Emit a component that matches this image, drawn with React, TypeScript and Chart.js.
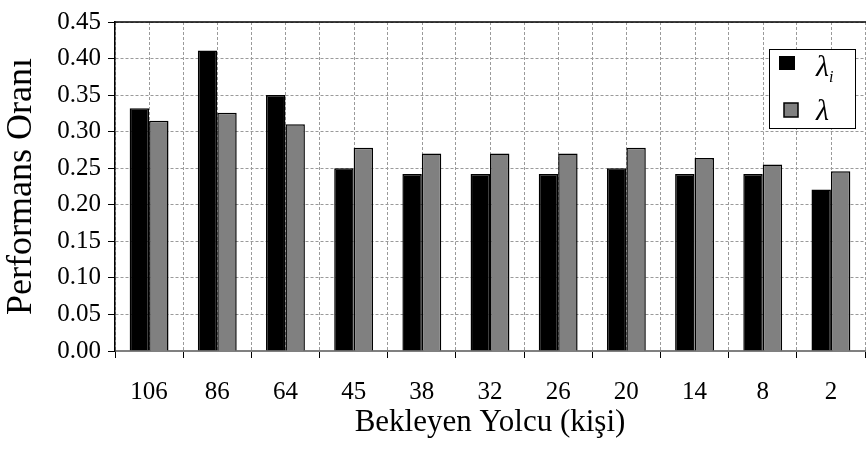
import React, { useEffect, useRef } from "react";
import { Chart, registerables } from "chart.js";

Chart.register(...registerables);

const categories = ["106", "86", "64", "45", "38", "32", "26", "20", "14", "8", "2"];
const lambdaI = [0.332, 0.411, 0.35, 0.25, 0.242, 0.242, 0.242, 0.25, 0.242, 0.242, 0.221];
const lambdaAll = [0.315, 0.326, 0.31, 0.278, 0.27, 0.27, 0.27, 0.278, 0.264, 0.255, 0.246];
const seriesNames = ["λi", "λ"];
const yTitle = "Performans Oranı";
const xTitle = "Bekleyen Yolcu (kişi)";

const SERIF = "'Liberation Serif', 'Times New Roman', serif";
const GRID = "#9a9a9a";

const extrasPlugin = {
  id: "extras",
  beforeDatasetsDraw(chart: any) {
    const { ctx, chartArea, scales } = chart;
    const x = scales.x;
    ctx.save();
    ctx.strokeStyle = GRID;
    ctx.lineWidth = 1;
    ctx.setLineDash([3, 2]);
    for (let i = 0; i < categories.length; i++) {
      const px = Math.round(x.getPixelForValue(i)) + 0.5;
      ctx.beginPath();
      ctx.moveTo(px, chartArea.top);
      ctx.lineTo(px, chartArea.bottom);
      ctx.stroke();
    }
    ctx.restore();
  },
  afterDraw(chart: any) {
    const { ctx, chartArea } = chart;
    ctx.save();
    ctx.strokeStyle = "#000";
    ctx.lineWidth = 1.5;
    ctx.beginPath();
    ctx.moveTo(chartArea.left, chartArea.top);
    ctx.lineTo(chart.width, chartArea.top);
    ctx.stroke();

    const bx = 769, by = 49, bw = 86, bh = 79;
    ctx.fillStyle = "#fff";
    ctx.fillRect(bx, by, bw, bh);
    ctx.strokeStyle = "#000";
    ctx.lineWidth = 1;
    ctx.strokeRect(bx + 0.5, by + 0.5, bw, bh);

    ctx.fillStyle = "#000";
    ctx.fillRect(779, 56, 16, 14);
    ctx.fillStyle = "#808080";
    ctx.fillRect(784, 103, 14, 14);
    ctx.lineWidth = 1.5;
    ctx.strokeRect(784, 103, 14, 14);

    ctx.fillStyle = "#000";
    ctx.textBaseline = "alphabetic";
    ctx.textAlign = "left";
    ctx.font = `italic 30px ${SERIF}`;
    ctx.fillText(seriesNames[0].charAt(0), 816, 76);
    const w = ctx.measureText(seriesNames[0].charAt(0)).width;
    ctx.font = `italic 16px ${SERIF}`;
    ctx.fillText(seriesNames[0].slice(1), 816 + w, 82);
    ctx.font = `italic 30px ${SERIF}`;
    ctx.fillText(seriesNames[1], 816, 120);
    ctx.restore();
  },
};

export default function App() {
  const ref = useRef<HTMLCanvasElement | null>(null);

  useEffect(() => {
    document.body.style.margin = "0";
    const canvas = ref.current;
    if (!canvas) return;
    const chart = new Chart(canvas, {
      type: "bar",
      data: {
        labels: categories,
        datasets: [
          {
            label: seriesNames[0],
            data: lambdaI,
            backgroundColor: "#000000",
            borderColor: "#000000",
            borderWidth: 1.5,
            categoryPercentage: 0.57,
            barPercentage: 1,
          },
          {
            label: seriesNames[1],
            data: lambdaAll,
            backgroundColor: "#808080",
            borderColor: "#000000",
            borderWidth: 1.5,
            categoryPercentage: 0.57,
            barPercentage: 1,
          },
        ],
      },
      options: {
        animation: false,
        responsive: true,
        maintainAspectRatio: false,
        layout: { padding: { top: 11, right: 1, left: 0, bottom: 0 } },
        plugins: {
          legend: { display: false },
          tooltip: { enabled: false },
        },
        scales: {
          x: {
            afterFit: (s: any) => {
              s.height = 99;
            },
            grid: {
              color: GRID,
              offset: true,
              tickLength: 7,
              tickColor: "#000",
              tickWidth: 1,
              tickBorderDash: [],
            },
            border: { display: true, color: "#808080", width: 2, dash: [3, 2] },
            ticks: {
              color: "#000",
              padding: 19,
              font: { family: SERIF, size: 25 },
              maxRotation: 0,
            },
            title: {
              display: true,
              text: xTitle,
              color: "#000",
              font: { family: SERIF, size: 31 },
              padding: { top: 0, bottom: 9 },
            },
          },
          y: {
            min: 0,
            max: 0.45,
            afterFit: (s: any) => {
              s.width = 115;
            },
            grid: {
              color: GRID,
              tickLength: 7,
              tickColor: "#000",
              tickWidth: 1,
              tickBorderDash: [],
            },
            border: { display: true, color: "#000", width: 1.5, dash: [3, 2] },
            ticks: {
              stepSize: 0.05,
              color: "#000",
              padding: 7,
              font: { family: SERIF, size: 25 },
              callback: (v: any) => Number(v).toFixed(2),
            },
            title: {
              display: true,
              text: yTitle,
              color: "#000",
              font: { family: SERIF, size: 36 },
              padding: { top: 0, bottom: 0 },
            },
          },
        },
      },
      plugins: [extrasPlugin],
    });
    return () => chart.destroy();
  }, []);

  return (
    <div style={{ width: 866, height: 450, position: "relative" }}>
      <canvas ref={ref} />
    </div>
  );
}
